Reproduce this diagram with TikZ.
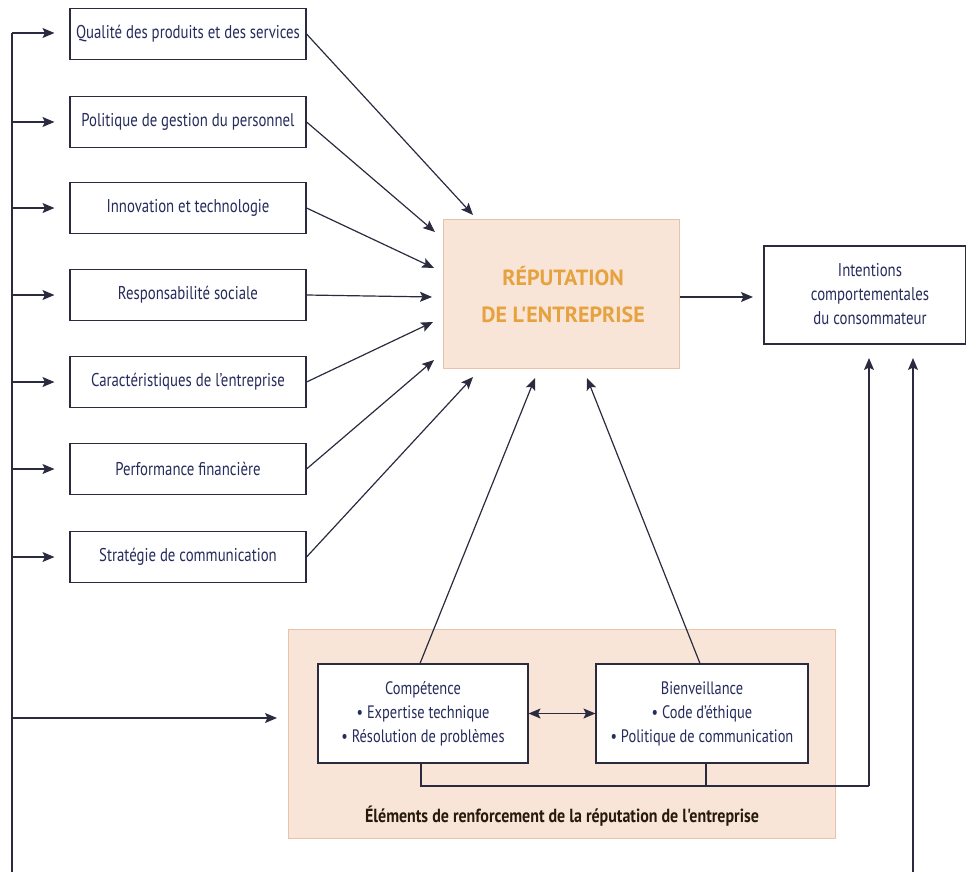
\documentclass[tikz,border=0pt]{standalone}
\usepackage{fontspec}
\setmainfont{PT Sans}[FakeStretch=0.8]
\newfontfamily\titlefont{PT Sans}
\newfontfamily\labelfont{PT Sans}[FakeStretch=0.84]
\usetikzlibrary{arrows.meta}
\definecolor{ink}{HTML}{262C5C}
\definecolor{lin}{HTML}{2A2B3E}
\definecolor{peach}{HTML}{F9E5D8}
\definecolor{peachb}{HTML}{E8C3AA}
\definecolor{orangetxt}{HTML}{E6A23E}
\tikzset{
  fbox/.style={draw=lin, line width=1.1pt, fill=white, minimum width=236pt, minimum height=51pt, inner sep=0pt, text=ink, font=\fontsize{18.5}{21}\selectfont, align=center},
  sbox/.style={draw=lin, line width=1.1pt, fill=white, minimum height=99pt, inner sep=0pt},
  stxt/.style={inner sep=0pt, text=ink, font=\fontsize{18}{24}\selectfont, align=center},
  tip/.tip={Stealth[length=12pt,width=10pt,inset=2.5pt]},
  arr/.style={draw=lin, line width=1.2pt, -tip},
  ln/.style={draw=lin, line width=1.2pt},
}
\begin{document}
\begin{tikzpicture}[x=1pt,y=-1pt]
\useasboundingbox (0,0) rectangle (966,872);
% background peach panel
\node (panel) [draw=peachb, fill=peach, line width=0.8pt, minimum width=547pt, minimum height=209pt, inner sep=0pt] at (561.5,733.5) {};
\node (panlabel) [text=black!80!brown, font=\labelfont\bfseries\fontsize{19}{21}\selectfont] at (562,816) {Éléments de renforcement de la réputation de l'entreprise};
% left boxes
\node (b1) [fbox] at (188,34) {Qualité des produits et des services};
\node (b2) [fbox] at (188,122) {Politique de gestion du personnel};
\node (b3) [fbox] at (188,208) {Innovation et technologie};
\node (b4) [fbox] at (188,295) {Responsabilité sociale};
\node (b5) [fbox] at (188,382) {Caractéristiques de l'entreprise};
\node (b6) [fbox] at (188,469) {Performance financière};
\node (b7) [fbox] at (188,557) {Stratégie de communication};
% central box
\node (rep) [draw=peachb, fill=peach, line width=1pt, minimum width=236pt, minimum height=149pt, inner sep=0pt] at (561,293.5) {};
\node (reptxt) [inner sep=0pt, text=orangetxt, font=\titlefont\bfseries\fontsize{22}{37}\selectfont, align=center] at (563,294.5) {RÉPUTATION\\DE L'ENTREPRISE};
% right box
\node (int) [draw=lin, line width=1.1pt, fill=white, minimum width=202pt, minimum height=98pt, inner sep=0pt] at (865,295) {};
\node (inttxt) [inner sep=0pt, text=ink, font=\fontsize{18.5}{24}\selectfont, align=center] at (870,294) {Intentions\\comportementales\\du consommateur};
% bottom boxes
\node (comp) [sbox, minimum width=210pt] at (423,713.5) {};
\node (comptxt) [stxt] at (423,714) {Compétence\\• Expertise technique\\• Résolution de problèmes};
\node (bien) [sbox, minimum width=212pt] at (702,713.5) {};
\node (bientxt) [stxt] at (702,714) {Bienveillance\\• Code d'éthique\\• Politique de communication};
% coordinates
\coordinate (ltop) at (12,33);
\coordinate (lbot) at (12,872);
\coordinate (l1) at (12,33);
\coordinate (l2) at (12,122);
\coordinate (l3) at (12,208);
\coordinate (l4) at (12,295);
\coordinate (l5) at (12,382);
\coordinate (l6) at (12,469);
\coordinate (l7) at (12,557);
\coordinate (l8) at (12,718);
\coordinate (e8) at (277,718);
\coordinate (t1) at (473,215);
\coordinate (t2) at (435,232);
\coordinate (t3) at (434,268);
\coordinate (t4) at (432,297);
\coordinate (t5) at (433,322);
\coordinate (t6) at (434,360);
\coordinate (t7) at (473,377);
\coordinate (tc) at (535,378);
\coordinate (tb) at (587,378);
\coordinate (rarr) at (753,297);
\coordinate (cs) at (421,786);
\coordinate (bs) at (706,786);
\coordinate (cr) at (869,786);
\coordinate (u1) at (869,358);
\coordinate (rb) at (913,872);
\coordinate (u2) at (913,358);
% left bus
\draw[ln] (ltop) -- (lbot);
\foreach \i in {1,...,7}{\draw[arr] (l\i) -- ([xshift=-15pt]b\i.west |- l\i);}
\draw[arr] (l8) -- (e8);
% arrows to reputation
\draw[arr] (b1.east) -- (t1);
\draw[arr] (b2.east) -- (t2);
\draw[arr] (b3.east) -- (t3);
\draw[arr] (b4.east) -- (t4);
\draw[arr] (b5.east) -- (t5);
\draw[arr] (b6.east) -- (t6);
\draw[arr] (b7.east) -- (t7);
\draw[arr] ([xshift=-3pt]comp.north) -- (tc);
\draw[arr] ([xshift=-2pt]bien.north) -- (tb);
\draw[arr] (rep.east |- rarr) -- (rarr);
\draw[ln, tip-tip] (comp.east) -- (bien.west);
% bottom connector
\draw[ln] (comp.south -| cs) -- (cs) -- (cr);
\draw[ln] (bien.south -| bs) -- (bs);
\draw[arr] (cr) -- (u1);
\draw[arr] (rb) -- (u2);
\end{tikzpicture}
\end{document}
